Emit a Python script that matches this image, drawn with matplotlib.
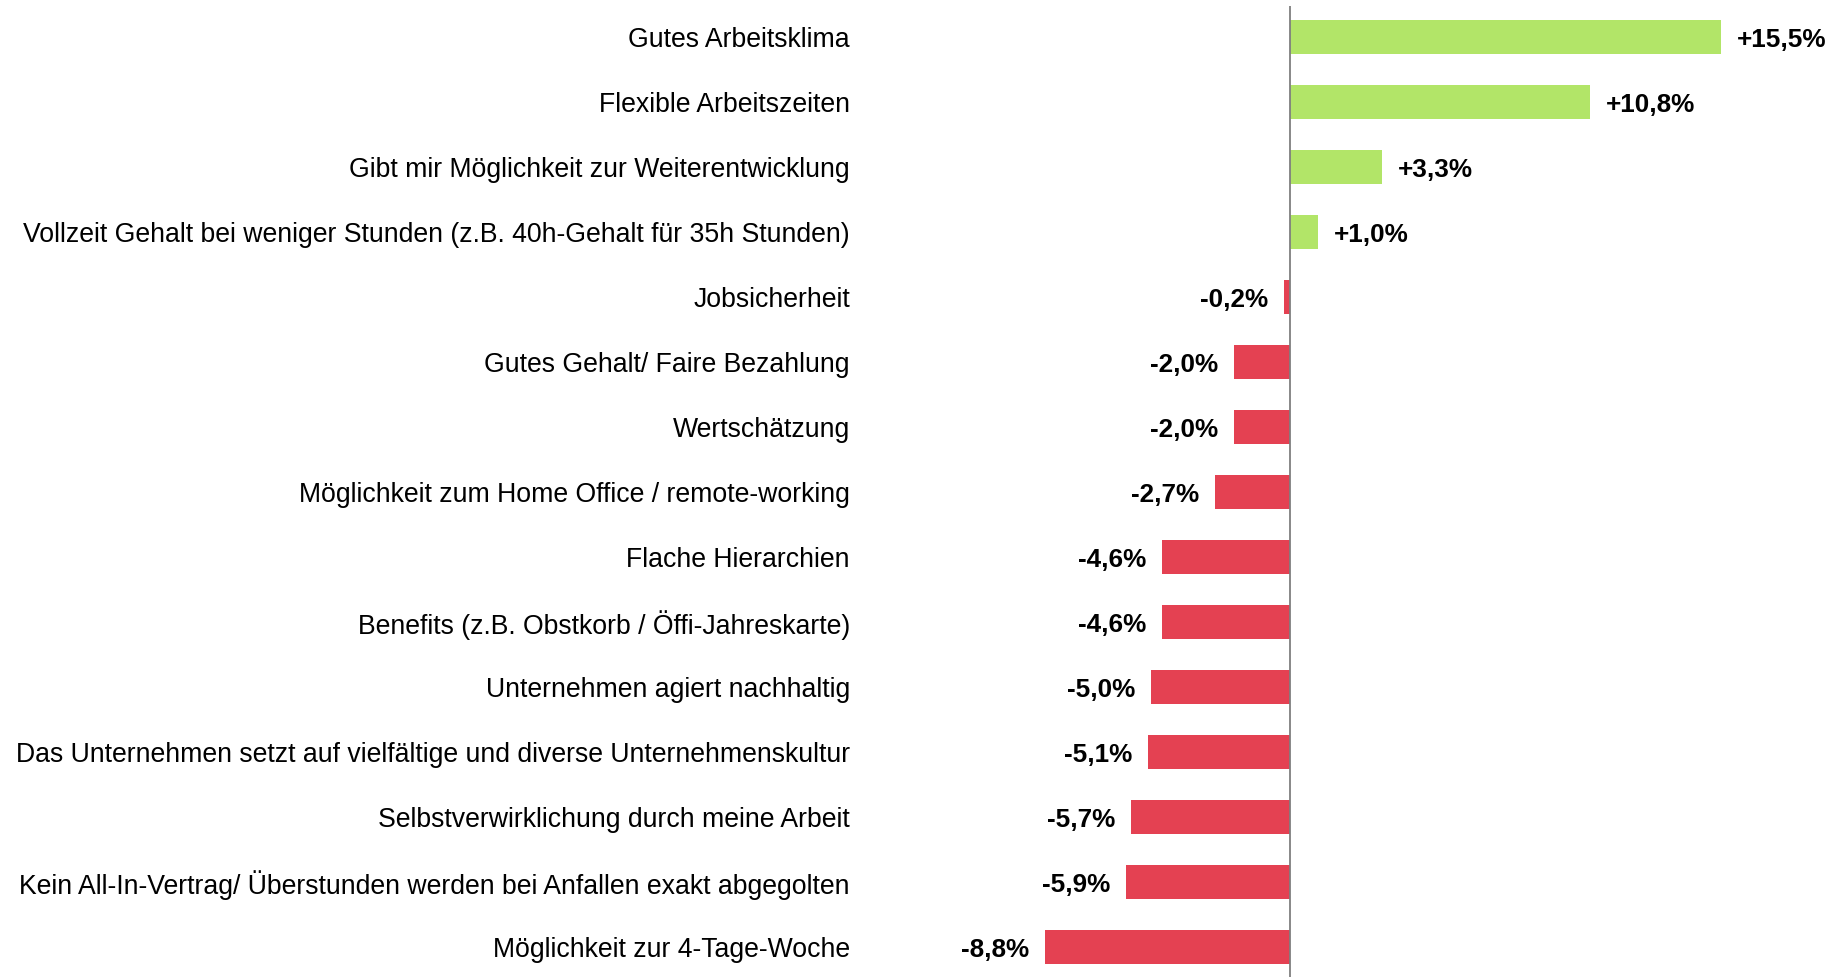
import matplotlib.pyplot as plt

plt.rcParams['font.family'] = ['Liberation Sans', 'DejaVu Sans']

# Kategorien (von oben nach unten) und Veränderung in Prozentpunkten
categories = [
    "Gutes Arbeitsklima",
    "Flexible Arbeitszeiten",
    "Gibt mir Möglichkeit zur Weiterentwicklung",
    "Vollzeit Gehalt bei weniger Stunden (z.B. 40h-Gehalt für 35h Stunden)",
    "Jobsicherheit",
    "Gutes Gehalt/ Faire Bezahlung",
    "Wertschätzung",
    "Möglichkeit zum Home Office / remote-working",
    "Flache Hierarchien",
    "Benefits (z.B. Obstkorb / Öffi-Jahreskarte)",
    "Unternehmen agiert nachhaltig",
    "Das Unternehmen setzt auf vielfältige und diverse Unternehmenskultur",
    "Selbstverwirklichung durch meine Arbeit",
    "Kein All-In-Vertrag/ Überstunden werden bei Anfallen exakt abgegolten",
    "Möglichkeit zur 4-Tage-Woche",
]
values = [15.5, 10.8, 3.3, 1.0, -0.2, -2.0, -2.0, -2.7, -4.6, -4.6, -5.0, -5.1, -5.7, -5.9, -8.8]

GREEN = "#b2e568"
RED = "#e44152"

fig = plt.figure(figsize=(18.33, 9.77), dpi=100)
ax = fig.add_axes([0.5, 0.0, 0.5, 0.9939])

y = list(range(len(categories)))
colors = [GREEN if v >= 0 else RED for v in values]
ax.barh(y, values, height=0.52, color=colors)

for yi, v in zip(y, values):
    txt = f"{v:+.1f}%".replace(".", ",")
    if v >= 0:
        ax.annotate(txt, (v, yi), xytext=(11.5, -2), textcoords="offset points",
                    ha="left", va="center", fontsize=18.8, fontweight="bold")
    else:
        ax.annotate(txt, (v, yi), xytext=(-11.5, -2), textcoords="offset points",
                    ha="right", va="center", fontsize=18.8, fontweight="bold")

ax.set_xlim(-13.43, 19.53)
ax.set_ylim(14.46, -0.477)
ax.set_yticks(y)
ax.set_yticklabels(categories, fontsize=19.2)
ax.tick_params(axis="y", length=0, pad=48)
ax.set_xticks([])

for s in ["top", "right", "bottom", "left"]:
    ax.spines[s].set_visible(False)
ax.axvline(0, color="#7f7f7f", linewidth=1.3)

fig.savefig("out.png", dpi=100)
